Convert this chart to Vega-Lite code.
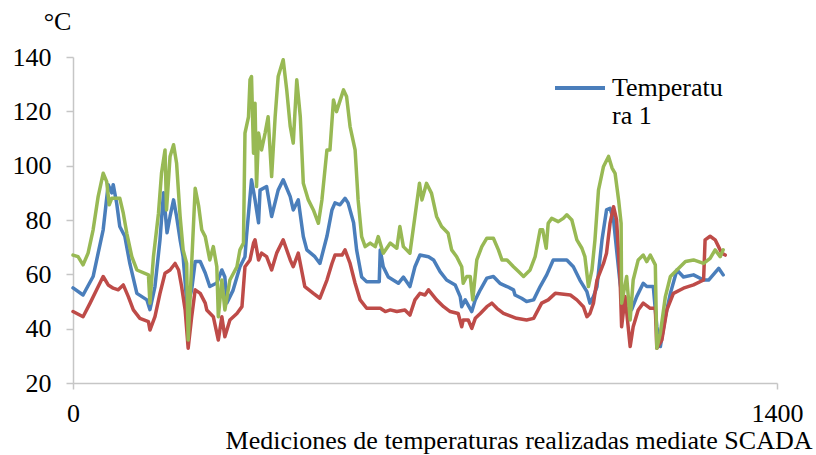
{
  "$schema": "https://vega.github.io/schema/vega-lite/v6.json",
  "width": 704,
  "height": 326,
  "autosize": "none",
  "padding": {"left": 73, "top": 57, "right": 39, "bottom": 72},
  "background": "white",
  "datasets": {
    "b": [{"i":0,"v":55},{"i":20,"v":52.4},{"i":40,"v":59.2},{"i":60,"v":76.4},{"i":70,"v":93},{"i":77,"v":90},{"i":80,"v":93},{"i":87,"v":86},{"i":93,"v":77.6},{"i":103,"v":74},{"i":113,"v":64},{"i":127,"v":53},{"i":147,"v":50.6},{"i":153,"v":47},{"i":163,"v":55.5},{"i":173,"v":72.7},{"i":180,"v":90},{"i":187,"v":75.3},{"i":193,"v":81.3},{"i":200,"v":87.4},{"i":206,"v":81.3},{"i":213,"v":72.7},{"i":219,"v":66.5},{"i":223,"v":57},{"i":227,"v":48},{"i":236,"v":54.3},{"i":243,"v":64.7},{"i":253,"v":64.7},{"i":263,"v":60.5},{"i":272,"v":55.5},{"i":286,"v":56.8},{"i":296,"v":61.6},{"i":302,"v":59},{"i":306,"v":49.5},{"i":318,"v":54},{"i":332,"v":62.8},{"i":342,"v":66.5},{"i":345,"v":74},{"i":355,"v":94.8},{"i":362,"v":87.4},{"i":369,"v":79},{"i":372,"v":91},{"i":385,"v":92.3},{"i":395,"v":81.3},{"i":408,"v":91},{"i":418,"v":94.8},{"i":432,"v":88.6},{"i":438,"v":83.7},{"i":448,"v":87.4},{"i":458,"v":73.9},{"i":465,"v":69},{"i":481,"v":66.5},{"i":491,"v":64},{"i":505,"v":74},{"i":515,"v":83.7},{"i":521,"v":86.3},{"i":531,"v":85.6},{"i":541,"v":88},{"i":547,"v":86.3},{"i":558,"v":79},{"i":564,"v":69},{"i":574,"v":59},{"i":584,"v":57.3},{"i":607,"v":57.3},{"i":609,"v":57.3},{"i":611,"v":69},{"i":617,"v":62.8},{"i":627,"v":59},{"i":647,"v":56.7},{"i":657,"v":59},{"i":670,"v":55.5},{"i":680,"v":62.8},{"i":690,"v":67.1},{"i":707,"v":66.5},{"i":717,"v":65.3},{"i":730,"v":61},{"i":743,"v":57.9},{"i":760,"v":56.1},{"i":770,"v":51.8},{"i":773,"v":48.1},{"i":780,"v":50.6},{"i":793,"v":46.3},{"i":800,"v":50.6},{"i":810,"v":54.3},{"i":823,"v":58.6},{"i":836,"v":59.2},{"i":849,"v":56.7},{"i":863,"v":55.5},{"i":876,"v":54.3},{"i":879,"v":52.4},{"i":892,"v":51.2},{"i":902,"v":50},{"i":916,"v":50.6},{"i":929,"v":55.5},{"i":942,"v":59.8},{"i":955,"v":65.3},{"i":982,"v":65.3},{"i":995,"v":62.8},{"i":1008,"v":57.9},{"i":1022,"v":53.6},{"i":1028,"v":49.4},{"i":1035,"v":51.8},{"i":1042,"v":55.5},{"i":1052,"v":72.7},{"i":1061,"v":83.7},{"i":1068,"v":84.3},{"i":1075,"v":80},{"i":1081,"v":69},{"i":1088,"v":56.7},{"i":1095,"v":48},{"i":1101,"v":50.6},{"i":1111,"v":47},{"i":1121,"v":51.8},{"i":1134,"v":56.7},{"i":1141,"v":55.5},{"i":1154,"v":55.5},{"i":1161,"v":40.7},{"i":1168,"v":33.4},{"i":1178,"v":44.4},{"i":1188,"v":53},{"i":1201,"v":61.6},{"i":1214,"v":59},{"i":1234,"v":59.8},{"i":1254,"v":57.9},{"i":1264,"v":57.9},{"i":1284,"v":62.2},{"i":1293,"v":59.8}],
    "r": [{"i":0,"v":46.3},{"i":20,"v":44.4},{"i":34,"v":49.4},{"i":47,"v":54.3},{"i":60,"v":59.2},{"i":70,"v":56.1},{"i":80,"v":54.9},{"i":90,"v":54.3},{"i":100,"v":56.1},{"i":110,"v":51.8},{"i":120,"v":46.9},{"i":133,"v":43.8},{"i":150,"v":42.6},{"i":153,"v":39.5},{"i":163,"v":44.4},{"i":173,"v":53},{"i":183,"v":60.4},{"i":193,"v":61.6},{"i":203,"v":64},{"i":210,"v":61.6},{"i":216,"v":55.5},{"i":223,"v":46.9},{"i":229,"v":32.8},{"i":236,"v":44.4},{"i":243,"v":54.3},{"i":253,"v":53},{"i":263,"v":49.4},{"i":266,"v":46.9},{"i":279,"v":44.4},{"i":289,"v":35.8},{"i":296,"v":44.4},{"i":302,"v":37},{"i":312,"v":43.2},{"i":326,"v":45.6},{"i":336,"v":48.1},{"i":342,"v":62.8},{"i":352,"v":65.3},{"i":359,"v":71.5},{"i":362,"v":72.7},{"i":369,"v":65.3},{"i":375,"v":67.8},{"i":385,"v":66.5},{"i":395,"v":61.6},{"i":405,"v":67.8},{"i":418,"v":72.7},{"i":432,"v":65.3},{"i":438,"v":62.8},{"i":448,"v":67.8},{"i":461,"v":55.5},{"i":478,"v":53},{"i":491,"v":51.2},{"i":505,"v":57.9},{"i":515,"v":64},{"i":521,"v":67.1},{"i":535,"v":67.1},{"i":541,"v":69},{"i":551,"v":64},{"i":561,"v":56.7},{"i":571,"v":50.6},{"i":584,"v":47.5},{"i":611,"v":47.5},{"i":621,"v":46.3},{"i":631,"v":46.9},{"i":644,"v":46.3},{"i":660,"v":46.9},{"i":670,"v":45},{"i":680,"v":50.6},{"i":690,"v":53},{"i":700,"v":52.4},{"i":707,"v":54.3},{"i":723,"v":50.6},{"i":737,"v":48.1},{"i":750,"v":46.3},{"i":766,"v":45.6},{"i":773,"v":40.7},{"i":776,"v":43.2},{"i":786,"v":43.2},{"i":793,"v":40.1},{"i":800,"v":43.8},{"i":810,"v":45.6},{"i":823,"v":48.1},{"i":833,"v":49.4},{"i":843,"v":47.5},{"i":856,"v":45.6},{"i":873,"v":44.4},{"i":882,"v":43.8},{"i":902,"v":43.2},{"i":916,"v":43.8},{"i":932,"v":49.4},{"i":945,"v":50.6},{"i":959,"v":53},{"i":989,"v":52.4},{"i":1002,"v":50.6},{"i":1015,"v":48.1},{"i":1022,"v":44.4},{"i":1028,"v":45.6},{"i":1035,"v":49.4},{"i":1042,"v":57.9},{"i":1055,"v":64},{"i":1061,"v":67.8},{"i":1068,"v":78.8},{"i":1075,"v":84.9},{"i":1081,"v":80},{"i":1088,"v":57.9},{"i":1091,"v":40.7},{"i":1098,"v":51.8},{"i":1108,"v":33.4},{"i":1114,"v":40.7},{"i":1124,"v":46.9},{"i":1134,"v":49.4},{"i":1148,"v":47.5},{"i":1158,"v":47.5},{"i":1161,"v":32.8},{"i":1171,"v":35.8},{"i":1181,"v":46.9},{"i":1194,"v":53},{"i":1214,"v":54.9},{"i":1234,"v":56.1},{"i":1254,"v":57.9},{"i":1257,"v":72.7},{"i":1267,"v":74},{"i":1277,"v":72.7},{"i":1290,"v":67.8},{"i":1297,"v":67.1}],
    "g": [{"i":0,"v":67.1},{"i":10,"v":66.5},{"i":20,"v":63.5},{"i":30,"v":67.8},{"i":40,"v":76.4},{"i":50,"v":88.6},{"i":60,"v":97.2},{"i":67,"v":94.1},{"i":72,"v":85.6},{"i":77,"v":88},{"i":93,"v":88},{"i":100,"v":82.5},{"i":107,"v":75.1},{"i":117,"v":66.5},{"i":127,"v":61.6},{"i":150,"v":59.8},{"i":153,"v":49.4},{"i":160,"v":66.5},{"i":170,"v":82.5},{"i":176,"v":97.2},{"i":183,"v":105.8},{"i":186,"v":83.7},{"i":193,"v":103.4},{"i":200,"v":107.7},{"i":206,"v":100.9},{"i":213,"v":81.3},{"i":219,"v":69},{"i":226,"v":64},{"i":229,"v":35.8},{"i":236,"v":64},{"i":243,"v":91.7},{"i":250,"v":85},{"i":256,"v":76.4},{"i":263,"v":73.9},{"i":272,"v":65.3},{"i":279,"v":70.2},{"i":286,"v":62.8},{"i":289,"v":44.4},{"i":296,"v":57.9},{"i":302,"v":46.9},{"i":312,"v":57.9},{"i":326,"v":62.8},{"i":332,"v":69},{"i":339,"v":71.5},{"i":342,"v":112},{"i":349,"v":118},{"i":352,"v":131.6},{"i":355,"v":132.8},{"i":359,"v":104.6},{"i":362,"v":123},{"i":365,"v":92.3},{"i":369,"v":112},{"i":375,"v":105.8},{"i":382,"v":112},{"i":388,"v":118},{"i":395,"v":96},{"i":402,"v":118},{"i":408,"v":132.8},{"i":418,"v":139},{"i":425,"v":127.9},{"i":432,"v":114.4},{"i":438,"v":108.3},{"i":445,"v":131.6},{"i":452,"v":118},{"i":458,"v":93.5},{"i":468,"v":87.4},{"i":478,"v":83.7},{"i":488,"v":78.8},{"i":495,"v":87.4},{"i":505,"v":105.8},{"i":511,"v":105.8},{"i":518,"v":124.2},{"i":524,"v":119.9},{"i":538,"v":127.9},{"i":544,"v":125.5},{"i":551,"v":114.4},{"i":561,"v":105.8},{"i":567,"v":87.4},{"i":574,"v":73.9},{"i":581,"v":70.2},{"i":591,"v":71.5},{"i":601,"v":70.2},{"i":607,"v":73.9},{"i":617,"v":67.8},{"i":631,"v":71.5},{"i":644,"v":69.6},{"i":650,"v":77.6},{"i":657,"v":70.2},{"i":670,"v":67.8},{"i":680,"v":81.3},{"i":689,"v":93.5},{"i":694,"v":87.4},{"i":703,"v":93.5},{"i":713,"v":89.8},{"i":723,"v":81.3},{"i":733,"v":77.6},{"i":746,"v":75.1},{"i":753,"v":69},{"i":763,"v":66.5},{"i":773,"v":62.8},{"i":776,"v":56.7},{"i":783,"v":59.2},{"i":790,"v":59.2},{"i":795,"v":50.6},{"i":803,"v":65.3},{"i":813,"v":70.2},{"i":823,"v":73.3},{"i":836,"v":73.3},{"i":846,"v":69},{"i":853,"v":65.3},{"i":863,"v":65.3},{"i":876,"v":62.8},{"i":886,"v":61},{"i":896,"v":59.2},{"i":909,"v":61.6},{"i":919,"v":66.5},{"i":929,"v":76.4},{"i":934,"v":76.4},{"i":941,"v":69.6},{"i":945,"v":78.8},{"i":952,"v":80.6},{"i":965,"v":79.4},{"i":975,"v":80.6},{"i":982,"v":81.9},{"i":992,"v":80},{"i":1002,"v":72.7},{"i":1012,"v":69.6},{"i":1018,"v":66.5},{"i":1025,"v":55.5},{"i":1032,"v":61.6},{"i":1038,"v":72.7},{"i":1045,"v":91},{"i":1055,"v":99.7},{"i":1065,"v":103.4},{"i":1072,"v":99.1},{"i":1078,"v":97.2},{"i":1085,"v":87.4},{"i":1090,"v":78.8},{"i":1091,"v":49.4},{"i":1101,"v":59.2},{"i":1108,"v":43.2},{"i":1114,"v":57.9},{"i":1124,"v":65.3},{"i":1134,"v":67.1},{"i":1141,"v":64.7},{"i":1148,"v":67.1},{"i":1158,"v":63.5},{"i":1161,"v":32.8},{"i":1168,"v":38.3},{"i":1178,"v":51.8},{"i":1188,"v":59.2},{"i":1201,"v":61.6},{"i":1218,"v":64.7},{"i":1234,"v":65.3},{"i":1254,"v":64},{"i":1267,"v":65.9},{"i":1277,"v":69},{"i":1287,"v":66.5},{"i":1293,"v":69}]
  },
  "encoding": {
    "x": {
      "field": "i", "type": "quantitative",
      "scale": {"domain": [0, 1400], "nice": false, "zero": false},
      "axis": {
        "values": [0, 1400], "grid": false, "format": "d",
        "labelFont": "Liberation Serif", "labelFontSize": 26, "labelColor": "#000000",
        "title": "Mediciones de temperaturas realizadas mediate SCADA",
        "titleFont": "Liberation Serif", "titleFontSize": 26, "titleFontWeight": "normal", "titleColor": "#000000",
        "titleAnchor": null, "titleAlign": "right", "titleBaseline": "alphabetic",
        "titleX": 739, "titleY": 65,
        "labelPadding": 11, "tickSize": 6, "labelFlush": false
      }
    },
    "y": {
      "field": "v", "type": "quantitative",
      "scale": {"domain": [20, 140], "nice": false, "zero": false},
      "axis": {
        "values": [20, 40, 60, 80, 100, 120, 140], "grid": false,
        "labelFont": "Liberation Serif", "labelFontSize": 26, "labelColor": "#000000",
        "title": "°C", "titleAngle": 0, "titleAlign": "center", "titleBaseline": "middle",
        "titleFont": "Liberation Serif", "titleFontSize": 26, "titleFontWeight": "normal", "titleColor": "#000000",
        "titleX": -16, "titleY": -36,
        "labelPadding": 15, "tickSize": 7
      }
    }
  },
  "layer": [
    {"data": {"name": "b"}, "mark": {"type": "line", "strokeWidth": 3.5, "strokeJoin": "round", "strokeCap": "round"},
     "encoding": {"color": {"datum": "Temperatura 1", "type": "nominal",
       "scale": {"domain": ["Temperatura 1", "Temperatura 2", "Temperatura 3"], "range": ["#4A7EBB", "#BE4B48", "#98B954"]},
       "legend": {
         "orient": "none", "legendX": 480, "legendY": 4, "padding": 0,
         "title": null, "values": ["Temperatura 1"],
         "symbolType": "stroke", "symbolSize": 2500, "symbolStrokeWidth": 4,
         "labelFont": "Liberation Serif", "labelFontSize": 26, "labelColor": "#000000",
         "labelOffset": 5, "labelLimit": 300,
         "labelExpr": "datum.label == 'Temperatura 1' ? ['Temperatu', 'ra 1'] : datum.label"
       }}}},
    {"data": {"name": "r"}, "mark": {"type": "line", "strokeWidth": 3.5, "strokeJoin": "round", "strokeCap": "round"}, "encoding": {"color": {"datum": "Temperatura 2", "type": "nominal"}}},
    {"data": {"name": "g"}, "mark": {"type": "line", "strokeWidth": 3.5, "strokeJoin": "round", "strokeCap": "round"}, "encoding": {"color": {"datum": "Temperatura 3", "type": "nominal"}}}
  ],
  "config": {
    "font": "Liberation Serif",
    "view": {"stroke": null},
    "axis": {
      "domainColor": "#c6c6c6", "domainWidth": 1.5, "tickColor": "#c6c6c6", "tickWidth": 1.5
    }
  }
}
